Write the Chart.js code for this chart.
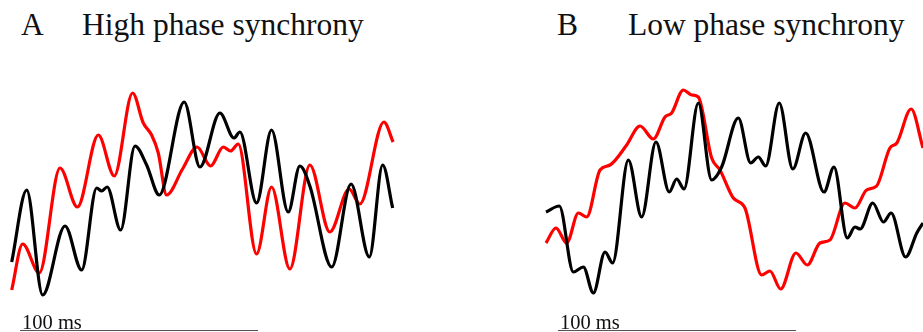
<!DOCTYPE html>
<html>
<head>
<meta charset="utf-8">
<script src="https://cdn.jsdelivr.net/npm/chart.js@4/dist/chart.umd.min.js"></script>
<style>
  html, body { margin: 0; padding: 0; background: #fff; width: 923px; height: 332px; overflow: hidden; }
  .title { position: absolute; top: 9px; font-family: "Liberation Serif", "Times New Roman", serif; font-size: 31.5px; line-height: 31.5px; color: #111; white-space: nowrap; }
  .cv { position: absolute; top: 60px; }
</style>
</head>
<body>
<div class="title" style="left:21px">A</div>
<div class="title" style="left:82px">High phase synchrony</div>
<div class="title" style="left:557px">B</div>
<div class="title" style="left:628px">Low phase synchrony</div>
<div class="cv" style="left:0px;width:460px;height:272px"><canvas id="cA"></canvas></div>
<div class="cv" style="left:520px;width:403px;height:272px"><canvas id="cB"></canvas></div>
<script>
// Panel A: time (ms) and amplitude (arbitrary units)
const timeA_black = [0.0, 6.3, 13.0, 22.4, 29.4, 35.7, 37.8, 40.1, 45.8, 51.8, 56.7, 62.0, 72.5, 79.1, 87.5, 93.4, 95.9, 102.9, 109.2, 116.2, 121.1, 125.3, 134.5, 142.6, 150.3, 155.9, 160.1];
const ampA_black  = [5.8, 13.0, 2.5, 9.4, 5.0, 13.2, 12.9, 13.3, 9.0, 17.4, 15.5, 12.5, 21.8, 15.3, 20.7, 18.2, 18.8, 11.7, 19.0, 10.8, 15.4, 13.4, 5.3, 13.6, 6.3, 15.5, 11.2];
const timeA_red   = [0.0, 4.6, 11.6, 20.3, 27.6, 36.4, 43.1, 50.8, 55.3, 58.8, 61.6, 65.1, 71.8, 77.9, 83.6, 88.9, 92.0, 95.2, 102.9, 109.2, 116.9, 125.3, 133.7, 141.8, 146.3, 156.4, 160.3];
const ampA_red    = [3.0, 7.6, 4.7, 15.2, 11.3, 18.5, 14.4, 22.7, 19.7, 18.5, 16.7, 12.5, 15.1, 17.3, 15.4, 17.3, 16.9, 17.6, 6.6, 13.3, 5.1, 15.5, 8.8, 13.1, 11.6, 19.8, 17.8];

// Panel B
const timeB_black = [0.0, 5.6, 11.5, 15.7, 19.9, 24.8, 28.0, 34.6, 40.2, 46.2, 51.8, 54.9, 58.0, 64.0, 69.6, 73.8, 80.8, 86.0, 89.2, 92.3, 98.0, 103.7, 109.1, 116.8, 121.0, 126.6, 129.8, 132.0, 137.3, 141.8, 145.0, 151.1, 155.8, 158.4];
const ampB_black  = [10.8, 11.4, 4.8, 5.3, 2.7, 6.8, 5.7, 16.0, 10.3, 17.8, 12.8, 14.1, 13.1, 21.7, 14.0, 15.3, 20.2, 15.7, 16.3, 15.4, 21.7, 15.1, 18.7, 12.8, 15.3, 8.2, 9.3, 9.1, 11.7, 9.8, 10.7, 6.3, 8.7, 9.7];
const timeB_red   = [0.0, 4.2, 8.7, 13.6, 17.1, 22.7, 26.9, 33.9, 39.5, 45.1, 50.0, 52.8, 57.7, 61.2, 64.0, 69.6, 73.1, 78.7, 83.6, 90.6, 94.1, 98.6, 105.0, 109.8, 115.1, 119.3, 125.6, 129.8, 134.7, 138.9, 144.5, 147.4, 153.4, 158.4];
const ampB_red    = [7.7, 9.2, 7.7, 10.7, 10.3, 15.0, 15.5, 17.5, 19.4, 18.1, 20.3, 20.7, 23.0, 22.5, 22.3, 16.2, 15.0, 12.2, 11.2, 4.5, 4.9, 3.1, 6.7, 5.5, 7.7, 8.0, 11.7, 11.2, 13.0, 13.4, 17.2, 17.7, 21.1, 17.2];

// Scale bars
const scaleBarA = { start: 3.5, length: 100, label: '100 ms' };
const scaleBarB = { start: 5.0, length: 100, label: '100 ms' };

const toPts = (t, v) => t.map((x, i) => ({ x: x, y: v[i] }));

function scaleBarPlugin(bar) {
  return {
    id: 'scalebar',
    afterDraw(chart) {
      const ctx = chart.ctx, xs = chart.scales.x;
      const x0 = xs.getPixelForValue(bar.start), x1 = xs.getPixelForValue(bar.start + bar.length);
      const y = chart.height - 1.5;
      ctx.save();
      ctx.strokeStyle = '#555';
      ctx.lineWidth = 1.2;
      ctx.beginPath(); ctx.moveTo(x0, y); ctx.lineTo(x1, y); ctx.stroke();
      ctx.fillStyle = '#111';
      ctx.font = '20.5px "Liberation Serif", "Times New Roman", serif';
      ctx.textBaseline = 'alphabetic';
      ctx.fillText(bar.label, x0 + 2, chart.height - 3.5);
      ctx.restore();
    }
  };
}

function makeChart(id, blackPts, redPts, xmin, xmax, bar) {
  new Chart(document.getElementById(id), {
    type: 'line',
    data: {
      datasets: [
        { data: blackPts, borderColor: '#000', borderWidth: 3.2, pointRadius: 0, cubicInterpolationMode: 'monotone', fill: false, clip: false },
        { data: redPts, borderColor: '#ff0000', borderWidth: 3.2, pointRadius: 0, cubicInterpolationMode: 'monotone', fill: false, clip: false }
      ]
    },
    options: {
      responsive: true, maintainAspectRatio: false, animation: false,
      layout: { padding: 0 },
      plugins: { legend: { display: false }, tooltip: { enabled: false } },
      scales: {
        x: { type: 'linear', min: xmin, max: xmax, display: false },
        y: { min: -1.2, max: 26, display: false }
      }
    },
    plugins: [scaleBarPlugin(bar)]
  });
}

makeChart('cA', toPts(timeA_black, ampA_black), toPts(timeA_red, ampA_red), -4.92, 188.4, scaleBarA);
makeChart('cB', toPts(timeB_black, ampB_black), toPts(timeB_red, ampB_red), -10.92, 158.4, scaleBarB);
</script>
</body>
</html>
